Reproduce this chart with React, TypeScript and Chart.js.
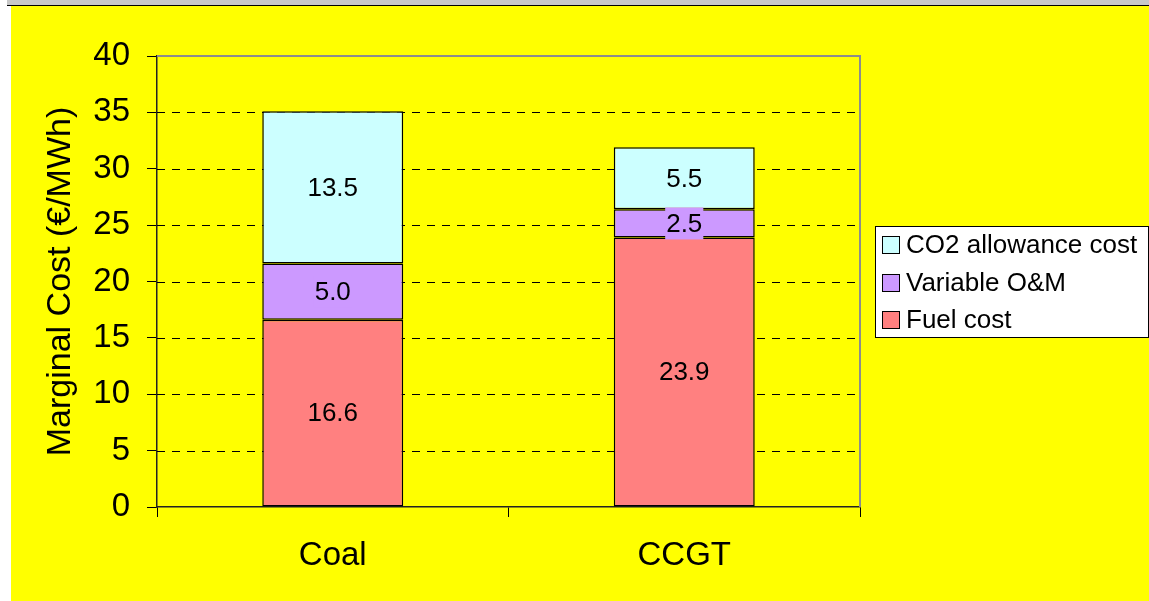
import React, { useEffect, useRef } from "react";
import { Chart, registerables } from "chart.js";

Chart.register(...registerables);

const categories = ["Coal", "CCGT"];
const fuelCost = [16.6, 23.9];
const variableOM = [5.0, 2.5];
const co2Cost = [13.5, 5.5];
const seriesNames = ["Fuel cost", "Variable O&M", "CO2 allowance cost"];
const seriesColors = ["#FF8080", "#CC99FF", "#CCFFFF"];
const yTicks = [0, 5, 10, 15, 20, 25, 30, 35, 40];
const yTitle = "Marginal Cost (€/MWh)";

const FONT = "'Liberation Sans', Arial, sans-serif";

const W = 1138;
const H = 595;

const gridPlugin = {
  id: "customGrid",
  beforeDatasetsDraw(chart: any) {
    const { ctx, chartArea, scales } = chart;
    const y = scales.y;
    ctx.save();
    ctx.strokeStyle = "#000";
    ctx.lineWidth = 1;
    ctx.setLineDash([8, 7]);
    for (const v of yTicks) {
      if (v === yTicks[0] || v === yTicks[yTicks.length - 1]) continue;
      const py = Math.round(y.getPixelForValue(v)) + 0.5;
      ctx.beginPath();
      ctx.moveTo(chartArea.left, py);
      ctx.lineTo(chartArea.right, py);
      ctx.stroke();
    }
    ctx.setLineDash([]);
    ctx.strokeStyle = "#8c8c8c";
    ctx.lineWidth = 2;
    const top = Math.round(y.getPixelForValue(yTicks[yTicks.length - 1]));
    ctx.beginPath();
    ctx.moveTo(chartArea.left, top);
    ctx.lineTo(chartArea.right, top);
    ctx.lineTo(chartArea.right, chartArea.bottom);
    ctx.stroke();
    ctx.restore();
  },
};

const labelPlugin = {
  id: "segLabels",
  afterDatasetsDraw(chart: any) {
    const { ctx } = chart;
    ctx.save();
    ctx.font = `26px ${FONT}`;
    ctx.textAlign = "center";
    ctx.textBaseline = "middle";
    chart.data.datasets.forEach((ds: any, di: number) => {
      const meta = chart.getDatasetMeta(di);
      meta.data.forEach((bar: any, i: number) => {
        const v = ds.data[i];
        const txt = v.toFixed(1);
        const cx = bar.x;
        const cy = (bar.y + bar.base) / 2;
        const tw = ctx.measureText(txt).width;
        ctx.fillStyle = ds.backgroundColor;
        ctx.fillRect(cx - tw / 2 - 1, cy - 16, tw + 2, 32);
        ctx.fillStyle = "#000";
        ctx.fillText(txt, cx, cy + 1);
      });
    });
    ctx.restore();
  },
};

const legendPlugin = {
  id: "boxLegend",
  afterDraw(chart: any) {
    const { ctx } = chart;
    const bx = 864.5;
    const by = 220.5;
    const bw = 273;
    const bh = 111;
    ctx.save();
    ctx.fillStyle = "#fff";
    ctx.fillRect(bx, by, bw, bh);
    ctx.strokeStyle = "#000";
    ctx.lineWidth = 1;
    ctx.strokeRect(bx, by, bw, bh);
    ctx.font = `26px ${FONT}`;
    ctx.textBaseline = "middle";
    ctx.textAlign = "left";
    const order = chart.data.datasets.map((_: any, i: number) => i).reverse();
    order.forEach((di: number, row: number) => {
      const ds = chart.data.datasets[di];
      const cy = 239 + row * 37.5;
      ctx.fillStyle = ds.backgroundColor;
      ctx.fillRect(871.5, Math.round(cy - 9) + 0.5, 17, 17);
      ctx.strokeStyle = "#000";
      ctx.strokeRect(871.5, Math.round(cy - 9) + 0.5, 17, 17);
      ctx.fillStyle = "#000";
      ctx.fillText(ds.label, 895, cy + 1);
    });
    ctx.restore();
  },
};

export default function App() {
  const ref = useRef<HTMLCanvasElement>(null);

  useEffect(() => {
    if (!ref.current) return;
    const seriesData = [fuelCost, variableOM, co2Cost];
    const chart = new Chart(ref.current, {
      type: "bar",
      data: {
        labels: categories,
        datasets: seriesData.map((d, i) => ({
          label: seriesNames[i],
          data: d,
          backgroundColor: seriesColors[i],
          borderColor: "#000",
          borderWidth: 1.5,
          borderSkipped: false,
          categoryPercentage: 1,
          barPercentage: 0.401,
        })),
      },
      options: {
        responsive: false,
        animation: false,
        devicePixelRatio: 1,
        layout: { padding: { left: 0, top: 50, right: 289, bottom: 0 } },
        plugins: {
          legend: { display: false },
          tooltip: { enabled: false },
          title: { display: false },
        },
        scales: {
          x: {
            stacked: true,
            grid: {
              display: true,
              drawOnChartArea: false,
              drawTicks: true,
              tickLength: 10,
              color: "#000",
              offset: true,
            },
            border: { display: true, color: "#222", width: 1.5 },
            ticks: {
              color: "#000",
              font: { family: FONT, size: 33 },
              padding: 19,
              maxRotation: 0,
            },
            afterFit(scale: any) {
              scale.height = 94;
            },
          },
          y: {
            stacked: true,
            min: yTicks[0],
            max: yTicks[yTicks.length - 1],
            afterBuildTicks(scale: any) {
              scale.ticks = yTicks.map((v) => ({ value: v }));
            },
            grid: {
              display: true,
              drawOnChartArea: false,
              drawTicks: true,
              tickLength: 10,
              color: "#000",
            },
            border: { display: true, color: "#222", width: 1.5 },
            ticks: {
              color: "#000",
              font: { family: FONT, size: 33 },
              padding: 17,
            },
            title: {
              display: true,
              text: yTitle,
              color: "#000",
              font: { family: FONT, size: 34 },
              padding: { top: 29, bottom: 0 },
            },
            afterFit(scale: any) {
              scale.width = 146;
            },
          },
        },
      },
      plugins: [gridPlugin, labelPlugin, legendPlugin],
    });
    return () => chart.destroy();
  }, []);

  return (
    <div
      style={{
        position: "fixed",
        left: 0,
        top: 0,
        width: 1149,
        height: 601,
        background: "#fff",
        overflow: "hidden",
      }}
    >
      <div style={{ position: "absolute", left: 7, top: 0, width: 1142, height: 5, background: "#c8c8c8" }} />
      <div style={{ position: "absolute", left: 7, top: 5, width: 1142, height: 1, background: "#000" }} />
      <div style={{ position: "absolute", left: 11, top: 6, width: W, height: H, background: "#ffff00" }}>
        <canvas ref={ref} width={W} height={H} style={{ display: "block", width: W, height: H }} />
      </div>
    </div>
  );
}
